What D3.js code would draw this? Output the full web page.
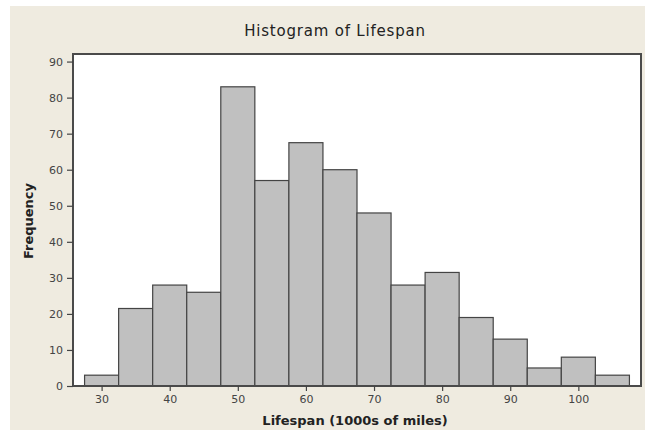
<!DOCTYPE html>
<html>
<head>
<meta charset="utf-8">
<script src="https://cdn.jsdelivr.net/npm/d3@7"></script>
<style>
  body { margin: 0; background: #fff; }
  svg { display: block; font-family: "DejaVu Sans", sans-serif; }
</style>
</head>
<body>
<div id="chart-container"></div>
<script>
// bins are 5 wide, centred on these values (1000s of miles)
const binCenters = [30, 35, 40, 45, 50, 55, 60, 65, 70, 75, 80, 85, 90, 95, 100, 105];
const frequencies = [3, 21.5, 28, 26, 83, 57, 67.5, 60, 48, 28, 31.5, 19, 13, 5, 8, 3];
const binWidth = 5;
const xTicks = [30, 40, 50, 60, 70, 80, 90, 100];
const yTicks = [0, 10, 20, 30, 40, 50, 60, 70, 80, 90];

const [W, H] = [645, 430];
const plot = { left: 73, top: 54, right: 641, bottom: 386 };

const svg = d3
  .select("#chart-container")
  .append("svg")
  .attr("width", W)
  .attr("height", H);

// beige panel behind everything
svg.append("rect")
  .attr("x", 10).attr("y", 6)
  .attr("width", W - 10).attr("height", H - 6)
  .attr("fill", "#efebe0");

const x = d3.scaleLinear().domain([25.8, 109.2]).range([plot.left, plot.right]);
const y = d3.scaleLinear().domain([0, 92.1]).range([plot.bottom, plot.top]);

// white data area
svg.append("rect")
  .attr("x", plot.left).attr("y", plot.top)
  .attr("width", plot.right - plot.left)
  .attr("height", plot.bottom - plot.top)
  .attr("fill", "#fff");

// bars
svg.append("g")
  .selectAll("rect")
  .data(binCenters.map((c, i) => ({ c, f: frequencies[i] })))
  .enter()
  .append("rect")
  .attr("x", (d) => x(d.c - binWidth / 2))
  .attr("y", (d) => y(d.f))
  .attr("width", (d) => x(d.c + binWidth / 2) - x(d.c - binWidth / 2))
  .attr("height", (d) => y(0) - y(d.f))
  .attr("fill", "#c0c0c0")
  .attr("stroke", "#444")
  .attr("stroke-width", 1.2);

// frame
svg.append("rect")
  .attr("x", plot.left).attr("y", plot.top)
  .attr("width", plot.right - plot.left)
  .attr("height", plot.bottom - plot.top)
  .attr("fill", "none")
  .attr("stroke", "#4a4a4a")
  .attr("stroke-width", 2);

// axes
const xAxis = d3.axisBottom(x).tickValues(xTicks).tickSize(5).tickPadding(4);
const gx = svg.append("g")
  .attr("transform", `translate(0, ${plot.bottom})`)
  .call(xAxis);

const yAxis = d3.axisLeft(y).tickValues(yTicks).tickSize(6).tickPadding(4);
const gy = svg.append("g")
  .attr("transform", `translate(${plot.left}, 0)`)
  .call(yAxis);

[gx, gy].forEach((g) => {
  g.select(".domain").remove();
  g.selectAll(".tick line").attr("stroke", "#444").attr("stroke-width", 1.2);
  g.selectAll(".tick text")
    .attr("fill", "#444")
    .style("font-size", "11px")
    .style("font-family", "'DejaVu Sans', sans-serif");
});

// title and axis labels
svg.append("text")
  .attr("x", 335).attr("y", 36)
  .attr("text-anchor", "middle")
  .style("font-size", "15px")
  .style("letter-spacing", "0.8px")
  .attr("fill", "#222")
  .text("Histogram of Lifespan");

svg.append("text")
  .attr("x", 355).attr("y", 425)
  .attr("text-anchor", "middle")
  .style("font-size", "13px")
  .style("font-weight", "bold")
  .attr("fill", "#222")
  .text("Lifespan (1000s of miles)");

svg.append("text")
  .attr("transform", "translate(33, 221) rotate(-90)")
  .attr("text-anchor", "middle")
  .style("font-size", "13px")
  .style("font-weight", "bold")
  .attr("fill", "#222")
  .text("Frequency");
</script>
</body>
</html>
